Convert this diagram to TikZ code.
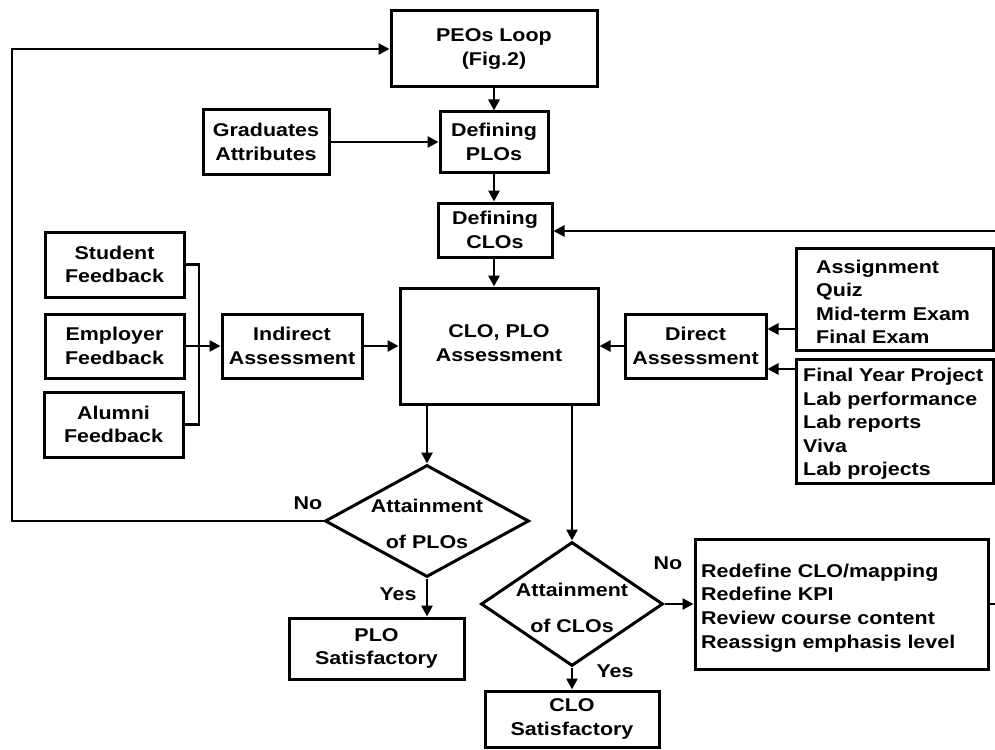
\documentclass[tikz,border=0pt]{standalone}
\usepackage{fontspec}
\newfontfamily\lbl[FakeStretch=1.16]{Liberation Sans}
\usetikzlibrary{arrows.meta,shapes.geometric}
\begin{document}
\begin{tikzpicture}[x=1pt,y=-1pt,
  every node/.style={font=\lbl\bfseries\fontsize{18.5}{23.5}\selectfont},
  box/.style={draw,line width=3pt,rectangle,align=center,inner sep=0pt},
  dec/.style={draw,line width=3pt,diamond,inner sep=0pt},
  txt/.style={inner sep=0pt,align=left},
  lnk/.style={line width=2.6pt},
  arr/.style={line width=2.6pt,-{Triangle[length=11pt,width=11pt]}}]
\useasboundingbox (0,0) rectangle (995,749);

% boxes
\node[box,minimum width=206,minimum height=76] (peo) at (494,49) {PEOs Loop\\(Fig.2)};
\node[box,minimum width=108,minimum height=60] (dplo) at (494,142) {Defining\\PLOs};
\node[box,minimum width=126,minimum height=64] (grad) at (266,142) {Graduates\\Attributes};
\node[box,minimum width=114,minimum height=54] (dclo) at (495,230) {Defining\\CLOs};
\node[box,minimum width=198,minimum height=116] (assess) at (499,346) {};
\node[txt,align=center] (assesst) at (499,343) {CLO, PLO\\Assessment};
\node[box,minimum width=141,minimum height=64] (direct) at (695.5,346) {Direct\\Assessment};
\node[box,minimum width=140,minimum height=64] (indirect) at (292,346) {Indirect\\Assessment};
\node[box,minimum width=139,minimum height=65] (student) at (114.5,264.5) {Student\\Feedback};
\node[box,minimum width=139,minimum height=64] (employer) at (114.5,346) {Employer\\Feedback};
\node[box,minimum width=139,minimum height=65] (alumni) at (113.5,424.5) {Alumni\\Feedback};

% assessment tool lists
\node[box,minimum width=197,minimum height=102] (asg) at (894.5,299) {};
\node[txt,anchor=west] (asgt) at (816,302) {Assignment\\Quiz\\Mid-term Exam\\Final Exam};
\node[box,minimum width=197,minimum height=124] (fyp) at (894.5,421) {};
\node[txt,anchor=west] (fypt) at (803,424) {Final Year Project\\Lab performance\\Lab reports\\Viva\\Lab projects};

% decisions
\node[dec,minimum width=204,minimum height=112] (dp) at (427,521) {};
\node[txt,align=center] (dpt) at (427,524) {Attainment\\[13pt]of PLOs};
\node[dec,minimum width=182,minimum height=124] (dc) at (572,604) {};
\node[txt,align=center] (dct) at (572,608) {Attainment\\[13pt]of CLOs};

% outcomes
\node[box,minimum width=175,minimum height=61] (plos) at (376.5,648.5) {PLO\\Satisfactory};
\node[box,minimum width=174,minimum height=56] (clos) at (572,719) {CLO\\Satisfactory};
\node[box,minimum width=293,minimum height=130] (redef) at (841.5,604) {};
\node[txt,anchor=west] (redeft) at (701,608) {Redefine CLO/mapping\\Redefine KPI\\Review course content\\Reassign emphasis level};

% labels
\node (no1) at (308,503) {No};
\node (yes1) at (398,594) {Yes};
\node (no2) at (668,563) {No};
\node (yes2) at (615,671) {Yes};

% connectors
\draw[arr] (peo.south) -- (peo.south |- dplo.north);
\draw[arr] (grad.east) -- (dplo.west);
\draw[arr] (dplo.south) -- (dplo.south |- dclo.north);
\draw[arr] (dclo.south -| dplo.south) -- (dplo.south |- assess.north);
\draw[arr] (indirect.east) -- (assess.west);
\draw[arr] (direct.west) -- (assess.east);
\draw[arr] (asg.west |- {0,329}) -- (direct.east |- {0,329});
\draw[arr] (fyp.west |- {0,369}) -- (direct.east |- {0,369});
\draw[lnk] (student.east) -- (199,264.5) -- (199,424.5) -- (alumni.east);
\draw[arr] (employer.east) -- (indirect.west);
\draw[arr] (dp.west) -- (12,521) -- (12,49) -- (peo.west);
\draw[arr] (dp.north |- assess.south) -- (dp.north);
\draw[arr] (dc.north |- assess.south) -- (dc.north);
\draw[arr] (dp.south) -- (dp.south |- plos.north);
\draw[arr] (dc.south) -- (clos.north);
\draw[arr] (dc.east) -- (redef.west);
\coordinate (rout) at (995,604);
\coordinate (rin) at (995,231);
\draw[lnk] (redef.east) -- (rout);
\draw[arr] (rin) -- (rin -| dclo.east);
\end{tikzpicture}
\end{document}
